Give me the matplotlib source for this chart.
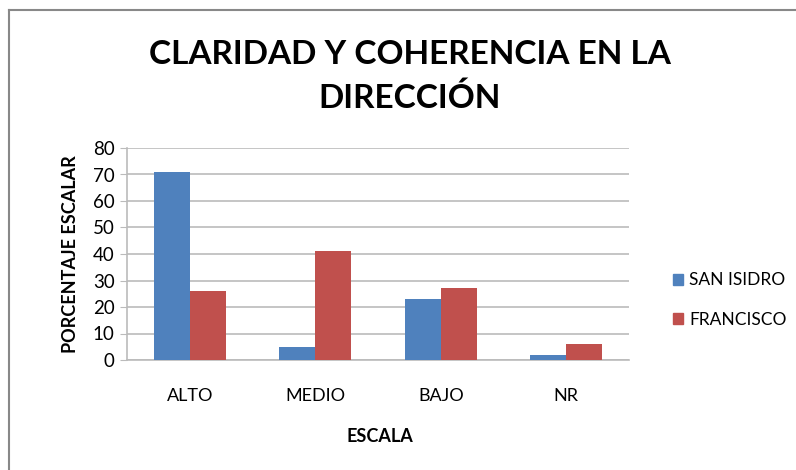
import matplotlib
matplotlib.use("Agg")
import matplotlib.pyplot as plt
import numpy as np
from matplotlib.lines import Line2D
from matplotlib.patches import Patch

categories = ["ALTO", "MEDIO", "BAJO", "NR"]
san_isidro = [71, 5, 23, 2]
francisco = [26, 41, 27, 6]
series_names = ["SAN ISIDRO", "FRANCISCO"]
yticks = [0, 10, 20, 30, 40, 50, 60, 70, 80]

plt.rcParams['font.family'] = ['Lato', 'DejaVu Sans']
W, H = 796, 470
fig = plt.figure(figsize=(W/100, H/100), dpi=100)
ax = fig.add_axes([127/W, 1-360/H, (629-127)/W, (360-148)/H])

x = np.arange(len(categories))
bw = 0.287
c1, c2 = "#4F81BD", "#C0504D"
ax.bar(x - bw/2, san_isidro, bw, color=c1, zorder=3)
ax.bar(x + bw/2, francisco, bw, color=c2, zorder=3)

ax.set_xlim(-0.5, len(categories) - 0.5)
ax.set_ylim(0, 80)
ax.set_yticks(yticks)
ax.set_xticks(x)
ax.set_xticklabels(categories)
ax.yaxis.grid(True, color="#BBBBBB", linewidth=1.2, zorder=0)
for s in ["top", "right"]:
    ax.spines[s].set_visible(False)
ax.spines["left"].set_color("#BBBBBB")
ax.spines["bottom"].set_color("#BBBBBB")
ax.spines["left"].set_linewidth(1.2)
ax.spines["bottom"].set_linewidth(1.2)
ax.tick_params(axis="y", length=5, color="#BBBBBB", labelsize=13.5, pad=4)
ax.tick_params(axis="x", length=0, labelsize=13, pad=20)

ax.set_ylabel("PORCENTAJE ESCALAR", fontsize=13, fontweight="bold", labelpad=10)
fig.text(380/W, 1-437/H, "ESCALA", ha="center", va="center", fontsize=13, fontweight="bold")

fig.text(410/W, 1-55/H, "CLARIDAD Y COHERENCIA EN LA", ha="center", va="center",
         fontsize=24, fontweight="bold")
fig.text(410/W, 1-98/H, "DIRECCIÓN", ha="center", va="center",
         fontsize=24, fontweight="bold")

handles = [Patch(color=c1), Patch(color=c2)]
fig.legend(handles, series_names, loc="center left", bbox_to_anchor=(657/W, 1-300/H),
           frameon=False, fontsize=12.5, handlelength=0.6, handleheight=0.6,
           handletextpad=0.35, labelspacing=1.35)

# outer frame
fig.add_artist(Line2D([9/W, 1], [1-10/H, 1-10/H], color="#888888", linewidth=1.5))
fig.add_artist(Line2D([9/W, 9/W], [0, 1-10/H], color="#888888", linewidth=1.5))

fig.savefig("out.png", dpi=100)
